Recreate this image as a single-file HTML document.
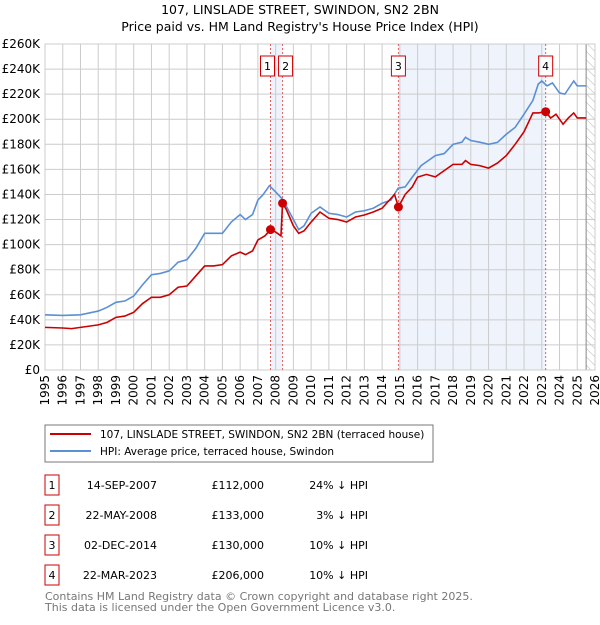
<!DOCTYPE html>
<html><head><meta charset="utf-8"><style>
body{margin:0;background:#fff;font-family:"Liberation Sans","DejaVu Sans",sans-serif;}
svg text{font-family:"DejaVu Sans","Liberation Sans",sans-serif;}
</style></head><body>
<svg id="c" width="600" height="620">
<defs><pattern id="hatch" width="6" height="6" patternUnits="userSpaceOnUse" patternTransform="rotate(-45)"><line x1="0" y1="0" x2="0" y2="6" stroke="#bbb" stroke-width="1"/></pattern></defs>
<text x="300" y="14" text-anchor="middle" font-size="12.5">107, LINSLADE STREET, SWINDON, SN2 2BN</text>
<text x="300" y="31" text-anchor="middle" font-size="12.5">Price paid vs. HM Land Registry's House Price Index (HPI)</text>
<g id="plot"></g>
<rect x="45" y="425" width="388" height="37" fill="#fff" stroke="#777"/>
<line x1="50" y1="434" x2="91" y2="434" stroke="#cc0000" stroke-width="2"/>
<text x="100" y="438" font-size="10.5">107, LINSLADE STREET, SWINDON, SN2 2BN (terraced house)</text>
<line x1="50" y1="451" x2="91" y2="451" stroke="#5b8fd6" stroke-width="2"/>
<text x="100" y="455" font-size="10.5">HPI: Average price, terraced house, Swindon</text>
<g id="tbl" font-size="11"></g>
<text x="45" y="600" font-size="11" fill="#777">Contains HM Land Registry data © Crown copyright and database right 2025.</text>
<text x="45" y="611" font-size="11" fill="#777">This data is licensed under the Open Government Licence v3.0.</text>
</svg>
<script>
const yTicks=[0,20,40,60,80,100,120,140,160,180,200,220,240,260];
const years=[1995,1996,1997,1998,1999,2000,2001,2002,2003,2004,2005,2006,2007,2008,2009,2010,2011,2012,2013,2014,2015,2016,2017,2018,2019,2020,2021,2022,2023,2024,2025,2026];
const hpiT=[1995,1996,1997,1998,1998.5,1999,1999.5,2000,2000.5,2001,2001.5,2002,2002.5,2003,2003.5,2004,2004.5,2005,2005.5,2006,2006.3,2006.7,2007,2007.3,2007.65,2008,2008.4,2009,2009.3,2009.6,2010,2010.5,2011,2011.5,2012,2012.5,2013,2013.5,2014,2014.5,2014.9,2015.3,2015.7,2016.2,2016.5,2017,2017.5,2018,2018.5,2018.7,2019,2019.5,2020,2020.5,2021,2021.5,2022,2022.5,2022.8,2023,2023.3,2023.6,2024,2024.3,2024.8,2025,2025.5];
const hpiV=[44,43.5,44,47,50,54,55,59,68,76,77,79,86,88,97,109,109,109,118,124,120,124,135.5,140,147,142,136,120,112,115,125,130,125,124,122,126,127,129,133,135.5,145,146,153.8,163,166,171,172.6,180,181.7,185.6,183,181.7,180,181.5,188,193.5,204,215,228,230.5,226.6,229,221,220,230.5,226.6,226.6];
const ppT=[1995,1996,1996.5,1997,1998,1998.5,1999,1999.5,2000,2000.5,2001,2001.5,2002,2002.5,2003,2003.5,2004,2004.5,2005,2005.5,2006,2006.3,2006.7,2007,2007.4,2007.71,2008,2008.3,2008.39,2008.6,2009,2009.3,2009.6,2010,2010.5,2011,2011.5,2012,2012.5,2013,2013.5,2014,2014.7,2014.92,2015.3,2015.7,2016,2016.5,2017,2017.5,2018,2018.5,2018.7,2019,2019.5,2020,2020.5,2021,2021.5,2022,2022.5,2022.8,2023.22,2023.5,2023.8,2024.2,2024.5,2024.8,2025,2025.5];
const ppV=[34,33.5,33,34,36,38,42,43,46,53,58,58,60,66,67,75,83,83,84,91,94,92,95,103.7,107,112,110,107,133,128,115,109,111,118,126,121,120,118,122,123.6,126,129,140,130,140,146,153.8,156,154,159,164,164,167,164,163,161,165,171,180,190,205,205,206,201,204,196,201,205,201,201];
const saleT=[2007.71,2008.39,2014.92,2023.22];
const saleV=[112,133,130,206];
const saleLabels=["1","2","3","4"];
const saleDates=["14-SEP-2007","22-MAY-2008","02-DEC-2014","22-MAR-2023"];
const salePrices=["£112,000","£133,000","£130,000","£206,000"];
const saleHpi=["24% ↓ HPI","3% ↓ HPI","10% ↓ HPI","10% ↓ HPI"];

const X0=45,X1=595,Y0=370,Y1=44;
const x=t=>X0+(t-1995)*(X1-X0)/31;
const y=v=>Y0-v*(Y0-Y1)/260;
const NS="http://www.w3.org/2000/svg";
const g=document.getElementById('plot');
function mk(tag,at,parent){const e=document.createElementNS(NS,tag);for(const k in at)e.setAttribute(k,at[k]);(parent||g).appendChild(e);return e;}
let e=mk('rect',{x:x(saleT[0]),y:Y1,width:x(saleT[1])-x(saleT[0]),height:Y0-Y1,fill:'#eef3fc'});


e=mk('rect',{x:x(saleT[2]),y:Y1,width:x(saleT[3])-x(saleT[2]),height:Y0-Y1,fill:'#eef3fc'});


e=mk('rect',{x:x(2025.5),y:Y1,width:X1-x(2025.5),height:Y0-Y1,fill:'url(#hatch)'});


yTicks.forEach(v=>{
 let l=mk('line',{x1:X0,x2:X1,y1:y(v),y2:y(v),stroke:'#ccc'});
 
 
 let t=mk('text',{x:40,y:y(v)+4,'text-anchor':'end','font-size':12});
 t.textContent=v===0?'£0':'£'+v+'K';
 
 
});
years.forEach(yr=>{
 let l=mk('line',{x1:x(yr),x2:x(yr),y1:Y1,y2:Y0,stroke:'#ccc'});
 
 
 let t=mk('text',{x:0,y:0,'text-anchor':'end','font-size':12,transform:`translate(${x(yr)+4},375) rotate(-90)`});
 t.textContent=yr;
 
 
});
e=mk('line',{x1:x(2025.5),x2:x(2025.5),y1:Y1,y2:Y0,stroke:'#888'});


e=mk('rect',{x:X0,y:Y1,width:X1-X0,height:Y0-Y1,fill:'none',stroke:'#ccc'});


saleT.forEach((t,i)=>{
 let l=mk('line',{x1:x(t),x2:x(t),y1:Y1,y2:Y0,stroke:'#e06060','stroke-dasharray':'2,2'});
 
 
});
e=mk('polyline',{points:hpiT.map((t,i)=>x(t)+','+y(hpiV[i])).join(' '),fill:'none',stroke:'#5b8fd6','stroke-width':1.6});


e=mk('polyline',{points:ppT.map((t,i)=>x(t)+','+y(ppV[i])).join(' '),fill:'none',stroke:'#cc0000','stroke-width':1.6});


saleT.forEach((t,i)=>{
 let c=mk('circle',{cx:x(t),cy:y(saleV[i]),r:4.5,fill:'#cc0000'});
 
 
 let bx=x(t)-7;
 if(i===0)bx=x(t)-10; if(i===1)bx=x(t)-4;
 let r=mk('rect',{x:bx,y:56,width:14,height:20,fill:'#fff',stroke:'#cc0000'});
 
 
 let tx=mk('text',{x:bx+7,y:70,'text-anchor':'middle','font-size':11});
 tx.textContent=saleLabels[i];
 
 
});
const tb=document.getElementById('tbl');
saleLabels.forEach((s,i)=>{
 const ry=475+i*30;
 let r=mk('rect',{x:45,y:ry,width:14,height:20,fill:'#fff',stroke:'#cc0000'},tb);
 
 
 const cells=[[52,s,'middle','table-row-number'],[157,saleDates[i],'end','table-row-date'],[264,salePrices[i],'end','table-row-price'],[368,saleHpi[i],'end','table-row-hpi']];
 cells.forEach(c=>{let t=mk('text',{x:c[0],y:ry+14,'text-anchor':c[2]},tb);t.textContent=c[1];
 
 });
});
</script>
</body></html>
